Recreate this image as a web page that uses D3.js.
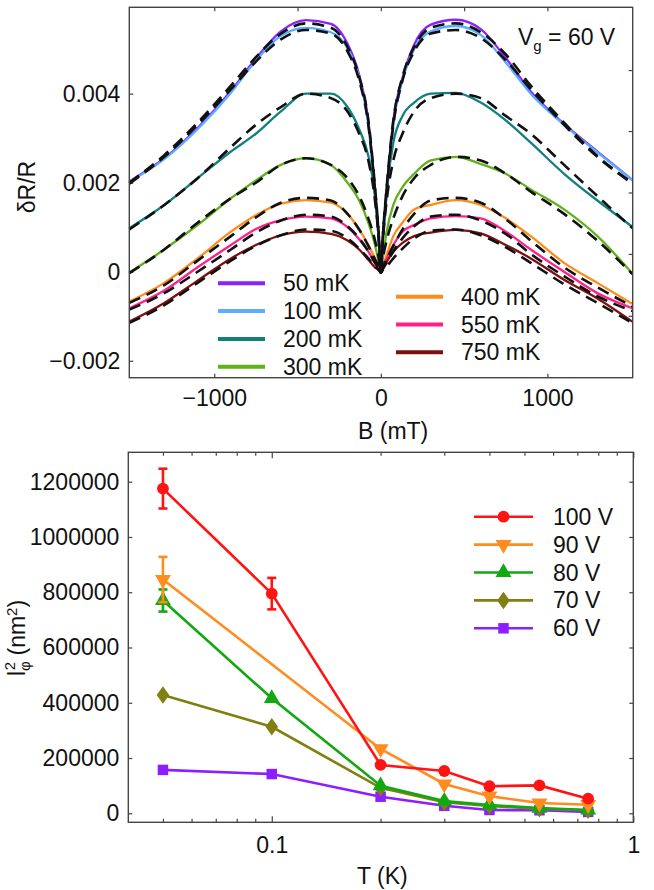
<!DOCTYPE html>
<html>
<head>
<meta charset="utf-8">
<script src="https://cdn.jsdelivr.net/npm/d3@7"></script>
<style>
  body { margin: 0; background: #fff; }
  svg { display: block; }
  text { font-family: "Liberation Sans", Arial, sans-serif; fill: #111; }
</style>
</head>
<body>
<svg id="chart" width="654" height="890"></svg>
<script>
// ---- top panel: magnetoresistance at Vg = 60 V ----
const fieldB = [-1510, -1300, -1100, -900, -750, -600, -450, -300, -200, -130, -75, -35, -12, 0,
                12, 35, 75, 130, 200, 300, 450, 600, 750, 900, 1100, 1300, 1510];

// measured dR/R
const dr50  = [0.00203, 0.00255, 0.00323, 0.00406, 0.00479, 0.00540, 0.00565, 0.00557, 0.00512, 0.00442, 0.0034, 0.0018, 0.0007, -0.00002,
               0.0007, 0.0018, 0.0034, 0.00435, 0.0051, 0.00555, 0.00566, 0.00545, 0.0048, 0.00405, 0.00332, 0.0027, 0.00206];
const dr100 = [0.00202, 0.00253, 0.00320, 0.00402, 0.00474, 0.00530, 0.00548, 0.00538, 0.00502, 0.00436, 0.0033, 0.0017, 0.0007, -0.00002,
               0.0007, 0.0017, 0.0033, 0.0043, 0.00500, 0.0054, 0.00552, 0.00532, 0.0047, 0.0040, 0.0033, 0.00268, 0.00206];
const dr200 = [0.00098, 0.0015, 0.0021, 0.0027, 0.0031, 0.0036, 0.0040, 0.0040, 0.0037, 0.0032, 0.0026, 0.0017, 0.0007, -0.00002,
               0.0007, 0.0018, 0.0029, 0.0035, 0.0038, 0.0040, 0.00402, 0.0038, 0.0034, 0.0029, 0.0022, 0.0016, 0.00101];
const dr300 = [-0.00002, 0.0005, 0.00105, 0.00165, 0.00205, 0.0024, 0.00255, 0.0024, 0.0020, 0.0016, 0.0011, 0.0006, 0.0002, -0.00002,
               0.0003, 0.0009, 0.0015, 0.0019, 0.0022, 0.0025, 0.00258, 0.00242, 0.0022, 0.00185, 0.0014, 0.0008, -0.00004];
const dr400 = [-0.00067, -0.00025, 0.0003, 0.0009, 0.00127, 0.00153, 0.00161, 0.00155, 0.0013, 0.00095, 0.0006, 0.0003, 0.0001, -0.00002,
               0.00012, 0.00038, 0.0008, 0.0011, 0.0014, 0.0015, 0.00161, 0.0015, 0.0012, 0.0008, 0.0002, -0.00025, -0.00072];
const dr550 = [-0.00082, -0.00042, 0.0001, 0.0006, 0.00096, 0.00116, 0.00124, 0.0012, 0.001, 0.00073, 0.00045, 0.0002, 0.00007, -0.00002,
               0.0001, 0.0003, 0.0006, 0.0009, 0.00105, 0.0012, 0.00125, 0.0012, 0.0009, 0.0005, 0.0, -0.00048, -0.00082];
const dr750 = [-0.00112, -0.0007, -0.0002, 0.0003, 0.0006, 0.00082, 0.0009, 0.00085, 0.0007, 0.0005, 0.00027, 0.0001, 0.00003, -0.00002,
               0.00005, 0.00022, 0.00045, 0.00065, 0.0008, 0.00088, 0.00094, 0.00086, 0.0006, 0.0003, -0.00018, -0.0006, -0.00112];

// fitted curves (dashed)
const fit50  = [0.00200, 0.00262, 0.00335, 0.00418, 0.00482, 0.00535, 0.00558, 0.00548, 0.00505, 0.00438, 0.0034, 0.0019, 0.0008, -0.00002,
                0.0008, 0.0019, 0.0034, 0.00438, 0.00505, 0.00548, 0.00558, 0.00538, 0.00488, 0.00418, 0.00335, 0.0026, 0.00200];
const fit100 = [0.00198, 0.00258, 0.0033, 0.0041, 0.00472, 0.00522, 0.00543, 0.00535, 0.00495, 0.0043, 0.0033, 0.00185, 0.00078, -0.00002,
                0.00078, 0.00185, 0.0033, 0.0043, 0.00495, 0.00535, 0.00543, 0.00525, 0.00475, 0.0041, 0.0033, 0.00258, 0.00198];
const fit200 = [0.00095, 0.0015, 0.0021, 0.0028, 0.0033, 0.0037, 0.0040, 0.0039, 0.0036, 0.0031, 0.0025, 0.0016, 0.0007, -0.00002,
                0.0007, 0.0016, 0.0025, 0.0031, 0.0036, 0.0039, 0.0040, 0.0039, 0.0035, 0.0031, 0.0024, 0.0017, 0.00098];
const fit300 = [-0.00003, 0.0005, 0.0011, 0.00165, 0.0020, 0.0024, 0.00255, 0.0024, 0.0021, 0.0017, 0.0012, 0.0007, 0.0003, -0.00002,
                0.0003, 0.0007, 0.0012, 0.0017, 0.0021, 0.0024, 0.00258, 0.0025, 0.0022, 0.0018, 0.0013, 0.0007, -0.00005];
const fit400 = [-0.0007, -0.0003, 0.00025, 0.0008, 0.00122, 0.00155, 0.00166, 0.0016, 0.0013, 0.00095, 0.00058, 0.00028, 0.0001, -0.00002,
                0.0001, 0.00028, 0.00058, 0.00095, 0.0013, 0.0016, 0.00166, 0.00155, 0.00118, 0.0007, 0.0001, -0.00035, -0.00078];
const fit550 = [-0.00085, -0.00048, 0.0, 0.0005, 0.00088, 0.00115, 0.00128, 0.00124, 0.00102, 0.00075, 0.00046, 0.0002, 0.00007, -0.00002,
                0.00007, 0.0002, 0.00046, 0.00075, 0.00102, 0.00124, 0.00128, 0.00115, 0.00085, 0.0004, -0.0001, -0.00055, -0.00088];
const fit750 = [-0.00115, -0.00075, -0.00025, 0.00025, 0.00058, 0.00082, 0.00095, 0.00092, 0.00075, 0.00052, 0.0003, 0.00012, 0.00004, -0.00002,
                0.00004, 0.00012, 0.0003, 0.00052, 0.00075, 0.00092, 0.00095, 0.00082, 0.00055, 0.0002, -0.00028, -0.0007, -0.00115];

const tempLabels = ["50 mK", "100 mK", "200 mK", "300 mK", "400 mK", "550 mK", "750 mK"];
const tempColors = ["#8a22ff", "#5aaeff", "#138080", "#62b01a", "#ff8c1a", "#ff2088", "#7f1010"];
const drSeries = [dr50, dr100, dr200, dr300, dr400, dr550, dr750];
const fitSeries = [fit50, fit100, fit200, fit300, fit400, fit550, fit750];

const bTicks = [-1000, 0, 1000];
const bTicksTop = [-1000, -500, 0, 500, 1000];
const drTicks = [-0.002, 0, 0.002, 0.004];
const drTicksRight = [0.00453, 0.00316, 0.00178, 0.0004, -0.00099];

// ---- bottom panel: l_phi^2 vs T ----
const tempK = [0.05, 0.1, 0.2, 0.3, 0.4, 0.55, 0.75];
const lphi100 = [1175000, 795000, 175000, 153000, 98000, 101000, 53000];
const lphi90  = [846000, null, 233000, 106000, 62000, 37000, 31000];
const lphi80  = [770000, 416000, 100000, 44000, 30000, 19000, 12000];
const lphi70  = [428000, 313000, 92000, 40000, 27000, 16000, 11000];
const lphi60  = [157000, 142000, 60000, 27000, 12000, 11000, 5000];
const err100 = [72000, 57000, 0, 0, 0, 0, 0];
const err90  = [82000, 0, 0, 0, 0, 0, 0];
const err80  = [40000, 0, 0, 0, 0, 0, 0];
const err70  = [0, 0, 0, 0, 0, 0, 0];
const err60  = [0, 0, 0, 0, 0, 0, 0];

const gateLabels = ["100 V", "90 V", "80 V", "70 V", "60 V"];
const gateColors = ["#ff1414", "#ff8c1e", "#12a812", "#808010", "#8c1eff"];
const gateShapes = ["circle", "down", "up", "diamond", "square"];
const gateSeries = [lphi100, lphi90, lphi80, lphi70, lphi60];
const gateErrors = [err100, err90, err80, err70, err60];

const tTicks = [0.1, 1];
const tMinor = [0.05, 0.06, 0.07, 0.08, 0.09, 0.2, 0.3, 0.4, 0.5, 0.6, 0.7, 0.8, 0.9];
const lTicks = [0, 200000, 400000, 600000, 800000, 1000000, 1200000];

const svg = d3.select("#chart");
const frameColor = "#444";
const fontSize = 23;

function frame(x0, y0, x1, y1) {
  svg.append("rect")
    .attr("x", x0).attr("y", y0)
    .attr("width", x1 - x0).attr("height", y1 - y0)
    .attr("fill", "none").attr("stroke", frameColor).attr("stroke-width", 1.4);
}

function cleanAxis(g) {
  g.select(".domain").remove();
  g.selectAll(".tick line").attr("stroke", frameColor).attr("stroke-width", 1.2);
  g.selectAll(".tick text").attr("font-size", fontSize).attr("fill", "#111")
    .attr("font-family", '"Liberation Sans", Arial, sans-serif');
}

// ================= TOP PANEL =================
const xTop = d3.scaleLinear().domain([-1510, 1512]).range([129.3, 632.7]);
const yTop = d3.scaleLinear().domain([-0.00238, 0.00594]).range([377.7, 7.3]);

const drFmt = v => v === 0 ? "0" : d3.format(".3f")(v);

svg.append("g").attr("transform", `translate(0,${yTop.range()[0]})`)
  .call(d3.axisBottom(xTop).tickValues(bTicks).tickSize(-4).tickPadding(12)
    .tickFormat(v => v === 0 ? "0" : d3.format("d")(v)))
  .call(cleanAxis);
svg.append("g").attr("transform", `translate(0,${yTop.range()[1]})`)
  .call(d3.axisTop(xTop).tickValues(bTicksTop).tickSize(-4).tickFormat(""))
  .call(cleanAxis);
svg.append("g").attr("transform", `translate(${xTop.range()[0]},0)`)
  .call(d3.axisLeft(yTop).tickValues(drTicks).tickSize(-4).tickPadding(9).tickFormat(drFmt))
  .call(cleanAxis);
svg.append("g").attr("transform", `translate(${xTop.range()[1]},0)`)
  .call(d3.axisRight(yTop).tickValues(drTicksRight).tickSize(-4).tickFormat(""))
  .call(cleanAxis);

const drLine = d3.line()
  .x((d, i) => xTop(fieldB[i]))
  .y(d => yTop(d))
  .curve(d3.curveMonotoneX);

drSeries.forEach((vals, i) => {
  svg.append("path")
    .datum(vals)
    .attr("d", drLine)
    .attr("fill", "none")
    .attr("stroke", tempColors[i])
    .attr("stroke-width", 2.3)
    .attr("stroke-linejoin", "round");
});

fitSeries.forEach(vals => {
  svg.append("path")
    .datum(vals)
    .attr("d", drLine)
    .attr("fill", "none")
    .attr("stroke", "#111")
    .attr("stroke-width", 2.6)
    .attr("stroke-dasharray", "12,7");
});

frame(129.3, 7.3, 632.7, 377.7);

// legend (two columns)
tempLabels.forEach((lab, i) => {
  const col = i < 4 ? 0 : 1;
  const row = i < 4 ? i : i - 4;
  const lx = col === 0 ? 218 : 396;
  const ly = (col === 0 ? 283.3 : 296.7) + row * 27.8;
  svg.append("line")
    .attr("x1", lx).attr("x2", lx + 47)
    .attr("y1", ly).attr("y2", ly)
    .attr("stroke", tempColors[i]).attr("stroke-width", 4);
  svg.append("text")
    .attr("x", lx + 65).attr("y", ly).attr("dy", "0.35em")
    .attr("font-size", fontSize)
    .text(lab);
});

const vg = svg.append("text").attr("x", 518).attr("y", 45).attr("font-size", fontSize);
vg.append("tspan").text("V");
vg.append("tspan").attr("font-size", 15).attr("dy", 6).text("g");
vg.append("tspan").attr("dy", -6).text(" = 60 V");

svg.append("text")
  .attr("x", 358).attr("y", 439)
  .attr("font-size", fontSize)
  .text("B (mT)");

svg.append("text")
  .attr("transform", "translate(35,187) rotate(-90)")
  .attr("text-anchor", "middle")
  .attr("font-size", fontSize)
  .text("δR/R");

// ================= BOTTOM PANEL =================
const xBot = d3.scaleLog().domain([0.0401, 1]).range([128.3, 633.3]);
const yBot = d3.scaleLinear().domain([-32600, 1306400]).range([822.3, 452.3]);

svg.append("g").attr("transform", `translate(0,${yBot.range()[0]})`)
  .call(d3.axisBottom(xBot).tickValues(tTicks).tickSize(-6).tickPadding(14)
    .tickFormat(v => v === 1 ? "1" : "0.1"))
  .call(cleanAxis);
svg.append("g").attr("transform", `translate(0,${yBot.range()[0]})`)
  .call(d3.axisBottom(xBot).tickValues(tMinor).tickSize(-3.5).tickFormat(""))
  .call(cleanAxis);
svg.append("g").attr("transform", `translate(0,${yBot.range()[1]})`)
  .call(d3.axisTop(xBot).tickValues(tTicks).tickSize(-6).tickFormat(""))
  .call(cleanAxis);
svg.append("g").attr("transform", `translate(0,${yBot.range()[1]})`)
  .call(d3.axisTop(xBot).tickValues(tMinor).tickSize(-3.5).tickFormat(""))
  .call(cleanAxis);
svg.append("g").attr("transform", `translate(${xBot.range()[0]},0)`)
  .call(d3.axisLeft(yBot).tickValues(lTicks).tickSize(-4).tickPadding(9).tickFormat(d3.format("d")))
  .call(cleanAxis);
svg.append("g").attr("transform", `translate(${xBot.range()[1]},0)`)
  .call(d3.axisRight(yBot).tickValues(lTicks).tickSize(-4).tickFormat(""))
  .call(cleanAxis);

function marker(shape, size) {
  if (shape === "circle") return d3.symbol(d3.symbolCircle, size)();
  if (shape === "square") return d3.symbol(d3.symbolSquare, size)();
  if (shape === "diamond") return d3.symbol(d3.symbolDiamond, size * 0.8)();
  return d3.symbol(d3.symbolTriangle, size)();
}
function markerTransform(shape, x, y) {
  return `translate(${x},${y})` + (shape === "down" ? " rotate(180)" : "") +
    (shape === "diamond" ? " scale(1.25,1)" : "");
}

const lLine = d3.line().x(d => xBot(d[0])).y(d => yBot(d[1]));

gateSeries.slice().reverse().forEach((vals, ri) => {
  const i = gateSeries.length - 1 - ri;
  const pts = tempK.map((t, k) => [t, vals[k], gateErrors[i][k]]).filter(p => p[1] != null);
  const col = gateColors[i];
  svg.append("path")
    .datum(pts)
    .attr("d", lLine)
    .attr("fill", "none")
    .attr("stroke", col)
    .attr("stroke-width", 2.6);
  pts.filter(p => p[2] > 0).forEach(p => {
    const px = xBot(p[0]);
    const y0 = yBot(p[1] - p[2]), y1 = yBot(p[1] + p[2]);
    const eb = svg.append("g").attr("stroke", col).attr("stroke-width", 2.6);
    eb.append("line").attr("x1", px).attr("x2", px).attr("y1", y0).attr("y2", y1);
    eb.append("line").attr("x1", px - 4.5).attr("x2", px + 4.5).attr("y1", y0).attr("y2", y0);
    eb.append("line").attr("x1", px - 4.5).attr("x2", px + 4.5).attr("y1", y1).attr("y2", y1);
  });
  svg.append("g").selectAll("path")
    .data(pts)
    .join("path")
    .attr("d", marker(gateShapes[i], 110))
    .attr("transform", p => markerTransform(gateShapes[i], xBot(p[0]), yBot(p[1])))
    .attr("fill", col);
});

frame(128.3, 452.3, 633.3, 822.3);

gateLabels.forEach((lab, i) => {
  const ly = 516.7 + i * 27.9;
  svg.append("line")
    .attr("x1", 474).attr("x2", 533)
    .attr("y1", ly).attr("y2", ly)
    .attr("stroke", gateColors[i]).attr("stroke-width", 2.6);
  svg.append("path")
    .attr("d", marker(gateShapes[i], 110))
    .attr("transform", markerTransform(gateShapes[i], 503.5, ly))
    .attr("fill", gateColors[i]);
  svg.append("text")
    .attr("x", 553).attr("y", ly).attr("dy", "0.35em")
    .attr("font-size", fontSize)
    .text(lab);
});

svg.append("text")
  .attr("x", 357).attr("y", 884)
  .attr("font-size", fontSize)
  .text("T (K)");

const yl = svg.append("text")
  .attr("transform", "translate(25,638) rotate(-90)")
  .attr("text-anchor", "middle")
  .attr("font-size", fontSize);
yl.append("tspan").text("l");
yl.append("tspan").attr("font-size", 15).attr("dy", 5).text("φ");
yl.append("tspan").attr("font-size", 15).attr("dx", -9).attr("dy", -15).text("2");
yl.append("tspan").attr("dy", 10).text(" (nm");
yl.append("tspan").attr("font-size", 15).attr("dy", -8).text("2");
yl.append("tspan").attr("dy", 8).text(")");
</script>
</body>
</html>
